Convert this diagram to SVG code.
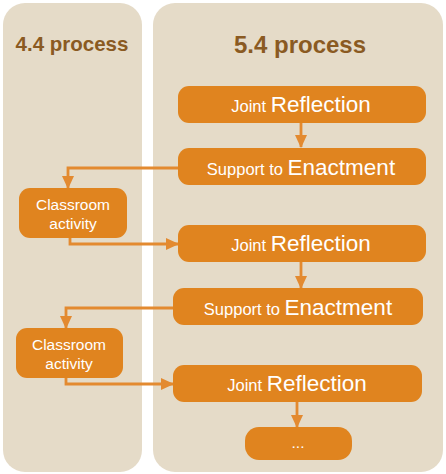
<svg xmlns="http://www.w3.org/2000/svg" width="446" height="474" viewBox="0 0 446 474">
<defs>
<style>
.panel{fill:#E5DBC8}
.title{font-family:"Liberation Sans",Arial,sans-serif;font-weight:bold;fill:#8A5A22}
.box{fill:#E0841F}
.t{font-family:"Liberation Sans",Arial,sans-serif;fill:#FFFFFF;text-anchor:middle}
.s{font-size:16.5px}
.b{font-size:22.5px}
.c{font-size:15.5px}
.conn{fill:none;stroke:#E38A30;stroke-width:2.8}
</style>
<marker id="ah" viewBox="0 0 13 12" refX="12" refY="6" markerWidth="13" markerHeight="12" orient="auto" markerUnits="userSpaceOnUse">
<path d="M0,0 L13,6 L0,12 Z" fill="#E38A30"/>
</marker>
</defs>
<rect width="446" height="474" fill="#FFFFFF"/>
<g id="panel-44">
<rect class="panel" x="3" y="3" width="139" height="469" rx="22"/>
<text class="title" x="72" y="51" font-size="20.5" text-anchor="middle">4.4 process</text>
</g>
<g id="panel-54">
<rect class="panel" x="153" y="3" width="290" height="469" rx="22"/>
<text class="title" x="300" y="53" font-size="24" text-anchor="middle">5.4 process</text>
</g>
<g id="connectors">
<path class="conn" d="M301,122 V147" marker-end="url(#ah)"/>
<path class="conn" d="M178,168 H68 V188" marker-end="url(#ah)"/>
<path class="conn" d="M70,238 V244 H178" marker-end="url(#ah)"/>
<path class="conn" d="M301,262 V288" marker-end="url(#ah)"/>
<path class="conn" d="M174,308 H66 V328" marker-end="url(#ah)"/>
<path class="conn" d="M66,378 V384 H173" marker-end="url(#ah)"/>
<path class="conn" d="M297,402 V427" marker-end="url(#ah)"/>
</g>
<g id="jr1">
<rect class="box" x="178" y="86" width="248" height="37" rx="11"/>
<text class="t" x="301" y="112"><tspan class="s">Joint </tspan><tspan class="b">Reflection</tspan></text>
</g>
<g id="se1">
<rect class="box" x="178" y="148" width="248" height="37" rx="11"/>
<text class="t" x="301" y="175"><tspan class="s">Support to </tspan><tspan class="b">Enactment</tspan></text>
</g>
<g id="ca1">
<rect class="box" x="19" y="188" width="108" height="50" rx="11"/>
<text class="t c" x="73" y="210">Classroom</text>
<text class="t c" x="73" y="229">activity</text>
</g>
<g id="jr2">
<rect class="box" x="178" y="225" width="248" height="37" rx="11"/>
<text class="t" x="301" y="251"><tspan class="s">Joint </tspan><tspan class="b">Reflection</tspan></text>
</g>
<g id="se2">
<rect class="box" x="173" y="288" width="250" height="37" rx="11"/>
<text class="t" x="298" y="315"><tspan class="s">Support to </tspan><tspan class="b">Enactment</tspan></text>
</g>
<g id="ca2">
<rect class="box" x="16" y="328" width="107" height="50" rx="11"/>
<text class="t c" x="69" y="350">Classroom</text>
<text class="t c" x="69" y="369">activity</text>
</g>
<g id="jr3">
<rect class="box" x="173" y="365" width="249" height="37" rx="11"/>
<text class="t" x="297" y="391"><tspan class="s">Joint </tspan><tspan class="b">Reflection</tspan></text>
</g>
<g id="more">
<rect class="box" x="245" y="427" width="107" height="33" rx="14"/>
<text class="t c" x="298" y="448">...</text>
</g>
</svg>
